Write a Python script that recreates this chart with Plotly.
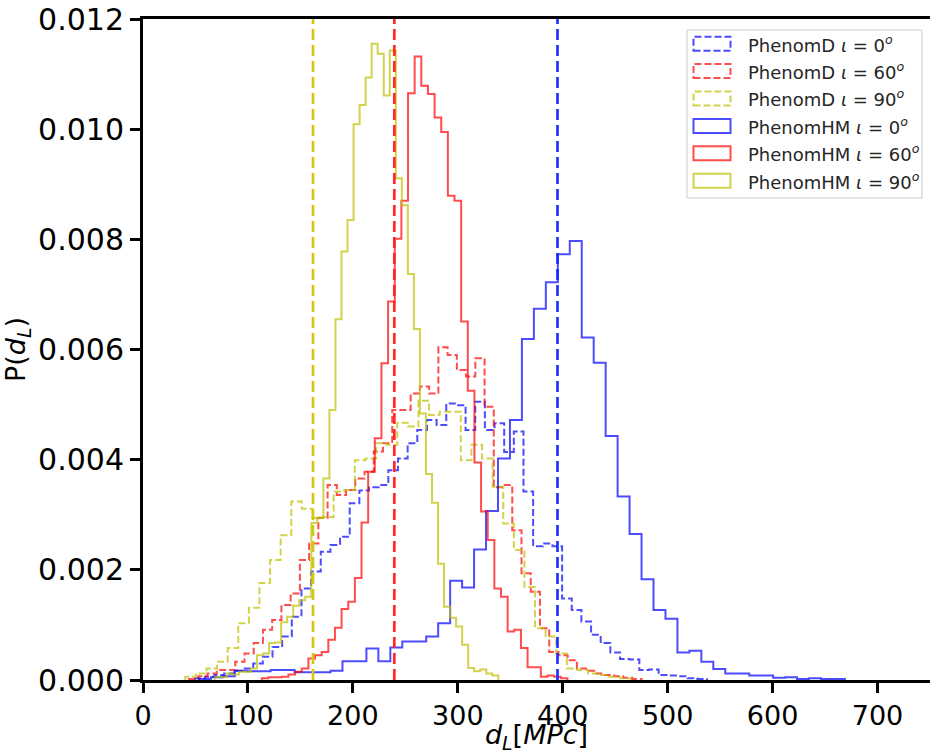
import numpy as np
import plotly.graph_objects as go

SCALE = 1e-3  # density values below are in units of 1e-3

# ---- PhenomD (dashed) histograms: bin start, bin width, densities (x1e-3)
d0_start, d0_width = 49.8, 9.2
d0_vals = [0.03, 0.06, 0.09, 0.12, 0.17, 0.21, 0.30, 0.42, 0.60, 0.79, 1.15, 1.66, 1.97,
           2.33, 2.45, 2.60, 3.21, 3.44, 3.50, 3.54, 3.81, 4.02, 4.30, 4.54, 4.72, 4.63,
           5.02, 4.99, 4.54, 5.05, 4.54, 4.66, 4.14, 4.51, 3.42, 2.43, 2.48, 2.43, 1.48,
           1.27, 1.06, 0.82, 0.67, 0.50, 0.38, 0.37, 0.18, 0.19, 0.09, 0.08, 0.07, 0.03, 0.02]

d60_start, d60_width = 43.9, 8.8
d60_vals = [0.02, 0.07, 0.12, 0.18, 0.18, 0.33, 0.48, 0.67, 0.91, 1.09, 1.36, 1.57, 2.18,
            2.48, 2.94, 3.54, 3.36, 3.45, 3.66, 3.78, 4.15, 4.30, 4.90, 4.90, 5.20, 5.33,
            5.20, 6.04, 5.90, 5.63, 5.51, 5.84, 4.96, 3.50, 3.54, 2.72, 1.94, 1.60, 0.94,
            0.51, 0.45, 0.36, 0.21, 0.17, 0.12, 0.09, 0.07, 0.04, 0.02]

d90_start, d90_width = 40.3, 10.1
d90_vals = [0.06, 0.12, 0.21, 0.33, 0.58, 1.03, 1.31, 1.76, 2.18, 2.63, 3.24, 3.11, 2.94,
            2.96, 3.42, 3.45, 3.99, 4.02, 4.30, 4.27, 4.67, 4.60, 5.07, 4.81, 4.87, 4.87,
            3.99, 4.27, 4.02, 3.51, 2.84, 2.36, 1.69, 0.94, 0.79, 0.48, 0.21, 0.18, 0.12,
            0.09, 0.06, 0.03]

# ---- PhenomHM (solid) histograms
hm0_start, hm0_width = 53.3, 11.4
hm0_vals = [0.02, 0.05, 0.07, 0.17, 0.16, 0.16, 0.18, 0.18, 0.14, 0.14, 0.14, 0.17, 0.34,
            0.34, 0.57, 0.34, 0.59, 0.70, 0.70, 0.79, 1.03, 1.80, 1.68, 2.37, 3.07, 4.02,
            4.72, 6.19, 6.74, 7.22, 7.73, 7.97, 6.22, 5.76, 4.43, 3.33, 2.65, 1.83, 1.27,
            1.11, 0.50, 0.53, 0.33, 0.20, 0.12, 0.12, 0.08, 0.08, 0.04, 0.05, 0.02, 0.03,
            0.02, 0.02]

hm60_start, hm60_width = 113.3, 6.33
hm60_vals = [0.03, 0.05, 0.05, 0.06, 0.10, 0.15, 0.21, 0.39, 0.45, 0.51, 0.73, 0.95, 1.29,
             1.42, 1.85, 2.86, 3.78, 4.39, 5.75, 6.87, 8.01, 8.70, 10.65, 11.32, 10.79,
             10.64, 10.21, 9.95, 8.79, 8.70, 6.51, 5.25, 3.95, 3.06, 2.54, 1.66, 1.51, 0.88,
             0.91, 0.58, 0.23, 0.23, 0.06, 0.08, 0.06, 0.03]

hm90_start, hm90_width = 68.4, 5.75
hm90_vals = [0.05, 0.05, 0.12, 0.10, 0.15, 0.15, 0.21, 0.45, 0.48, 0.67, 0.68, 1.05, 1.15,
             1.35, 1.45, 1.51, 2.85, 2.95, 3.66, 4.90, 6.55, 7.78, 8.35, 10.09, 10.44, 10.94,
             11.55, 11.37, 10.61, 11.43, 9.11, 8.62, 7.37, 6.37, 4.84, 3.74, 3.22, 2.11, 1.33,
             1.13, 0.97, 0.64, 0.22, 0.16, 0.19, 0.12, 0.08]

# injected distances (vertical dashed lines)
inj_labels = ["0", "60", "90"]
inj_dist = [395.0, 239.5, 162.0]

x_ticks = [0, 100, 200, 300, 400, 500, 600, 700]
y_ticks = [0.000, 0.002, 0.004, 0.006, 0.008, 0.010, 0.012]

legend_labels = ["PhenomD <i>ι</i> = 0<sup><i>o</i></sup>",
                 "PhenomD <i>ι</i> = 60<sup><i>o</i></sup>",
                 "PhenomD <i>ι</i> = 90<sup><i>o</i></sup>",
                 "PhenomHM <i>ι</i> = 0<sup><i>o</i></sup>",
                 "PhenomHM <i>ι</i> = 60<sup><i>o</i></sup>",
                 "PhenomHM <i>ι</i> = 90<sup><i>o</i></sup>"]

# ---- styles
HIST_COL = {"b": "rgba(0,0,255,0.7)", "r": "rgba(255,0,0,0.7)", "y": "rgba(191,191,0,0.7)"}
VLINE_COL = {"b": "rgba(20,40,255,0.95)", "r": "rgba(255,30,30,0.95)", "y": "rgb(210,200,20)"}
DASH = "7px,3px"
FONT = "DejaVu Sans"


def step_xy(start, width, vals):
    vals = np.asarray(vals, dtype=float) * SCALE
    edges = start + width * np.arange(len(vals) + 1)
    x = np.concatenate([[edges[0]], edges[:-1], [edges[-1], edges[-1]]])
    y = np.concatenate([[0.0], vals, [vals[-1], 0.0]])
    return x, y


series = [
    (d0_start, d0_width, d0_vals, "b", DASH),
    (d60_start, d60_width, d60_vals, "r", DASH),
    (d90_start, d90_width, d90_vals, "y", DASH),
    (hm0_start, hm0_width, hm0_vals, "b", "solid"),
    (hm60_start, hm60_width, hm60_vals, "r", "solid"),
    (hm90_start, hm90_width, hm90_vals, "y", "solid"),
]

fig = go.Figure()
for (s, w, v, c, dash), lab in zip(series, legend_labels):
    x, y = step_xy(s, w, v)
    fig.add_trace(go.Scatter(x=x, y=y, mode="lines", line_shape="hv",
                             line=dict(color=HIST_COL[c], width=2, dash=dash),
                             name=lab, showlegend=False, hoverinfo="skip"))

shapes = []
for d, c in zip(inj_dist, ["b", "r", "y"]):
    shapes.append(dict(type="line", xref="x", yref="paper", x0=d, x1=d, y0=0, y1=1,
                       line=dict(color=VLINE_COL[c], width=2.7, dash="11px,5px")))

# ---- manual legend (matplotlib-like patch legend)
W, H = 930, 754
L, R, T, B = 143, 0, 19, 74
pw, ph = W - L - R, H - T - B


def px(xp):
    return (xp - L) / pw


def py(yp):
    return (H - B - yp) / ph


shapes.append(dict(type="rect", xref="paper", yref="paper",
                   x0=px(687), x1=px(922), y0=py(198), y1=py(30),
                   line=dict(color="#cccccc", width=1), fillcolor="rgba(255,255,255,0.8)",
                   layer="above"))
annotations = []
row0, row_step = 43.7, 27.4
leg_cols = ["b", "r", "y", "b", "r", "y"]
leg_dash = [DASH, DASH, DASH, "solid", "solid", "solid"]
for i, lab in enumerate(legend_labels):
    cy = row0 + i * row_step
    shapes.append(dict(type="rect", xref="paper", yref="paper",
                       x0=px(693.5), x1=px(730.5), y0=py(cy + 7), y1=py(cy - 7),
                       line=dict(color=HIST_COL[leg_cols[i]], width=2, dash=leg_dash[i]),
                       fillcolor="rgba(0,0,0,0)", layer="above"))
    annotations.append(dict(xref="paper", yref="paper", x=px(746), y=py(cy),
                            text=lab, showarrow=False, xanchor="left", yanchor="middle",
                            font=dict(family=FONT, size=18, color="#262626")))

fig.update_layout(
    width=W, height=H,
    margin=dict(l=L, r=R, t=T, b=B, pad=0),
    paper_bgcolor="white", plot_bgcolor="white",
    font=dict(family=FONT, color="black"),
    shapes=shapes, annotations=annotations,
    xaxis=dict(range=[0, 750], tickvals=x_ticks, ticktext=[str(t) for t in x_ticks],
               showgrid=False, zeroline=False, showline=True, linecolor="black",
               linewidth=3, mirror=True, ticks="outside", ticklen=10, tickwidth=2.5,
               tickcolor="black", tickfont=dict(size=27, family=FONT),
               title=dict(text="<i>d</i><sub><i>L</i></sub>[<i>MPc</i>]",
                          font=dict(size=27, family=FONT), standoff=5)),
    yaxis=dict(range=[0, 0.012], tickvals=y_ticks, ticktext=[f"{t:.3f}" for t in y_ticks],
               showgrid=False, zeroline=False, showline=True, linecolor="black",
               linewidth=3, ticks="outside", ticklen=10, tickwidth=2.5, tickcolor="black",
               tickfont=dict(size=30, family=FONT),
               title=dict(text="P(<i>d</i><sub><i>L</i></sub>)",
                          font=dict(size=27, family=FONT), standoff=6)),
)

fig.write_html("out.html")
